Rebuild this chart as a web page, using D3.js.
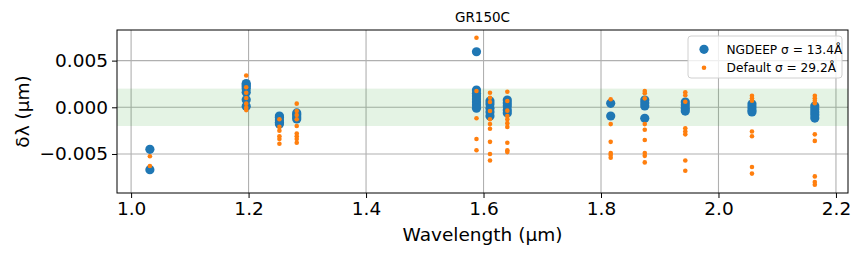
<!DOCTYPE html>
<html>
<head>
<meta charset="utf-8">
<script src="https://cdn.jsdelivr.net/npm/d3@7"></script>
<style>
  body { margin: 0; background: #fff; }
  text { font-family: "DejaVu Sans", sans-serif; fill: #000; }
</style>
</head>
<body>
<div id="chart"></div>
<script>
var svgWidth = 865
var svgHeight = 260

// Plot area
var margin = {top: 30, right: 17, bottom: 67, left: 117}
var plotWidth = svgWidth - margin.left - margin.right
var plotHeight = svgHeight - margin.top - margin.bottom

// Line wavelengths (um)
var lineWave = [1.032, 1.196, 1.2525, 1.282, 1.588, 1.611, 1.6405, 1.8165, 1.8745, 1.9435, 2.057, 2.164]

// NGDEEP offsets (um), one list per line
var ngdeepDelta = [
  [-0.0045, -0.00668],
  [0.00255, 0.0024, 0.0022, 0.0020, 0.0016, 0.0008, 0.0001],
  [-0.00093, -0.0011, -0.00136, -0.0016, -0.0018],
  [-0.0006, -0.0008, -0.00104, -0.00125],
  [0.00595, 0.00185, 0.0015, 0.0012, 0.0009, 0.00057, 0.00025, -0.0001],
  [0.00067, 0.00035, -0.0001, -0.0005, -0.00093],
  [0.00078, 0.00046, 0.00014, -0.0003, -0.0006],
  [0.00043, -0.00093],
  [0.00078, 0.00046, 0.00014, -0.00118],
  [0.00057, 0.00025, -0.0001, -0.0004],
  [0.00035, 0.00003, -0.0003, -0.0005],
  [0.00014, -0.00018, -0.0005, -0.0008, -0.00115]
]

// Default offsets (um), one list per line
var defaultDelta = [
  [-0.00524, -0.00628],
  [0.0034, 0.00214, 0.00156, 0.0010, 0.00039, -0.00004, -0.0003],
  [-0.00128, -0.0021, -0.0025, -0.0031, -0.0034, -0.0039],
  [0.00039, -0.0004, -0.00082, -0.00128, -0.002, -0.0028, -0.0031, -0.0034, -0.0038],
  [0.00745, 0.00174, -0.00118, -0.0034, -0.0046],
  [0.00156, 0.00103, 0.00057, -0.0004, -0.00128, -0.0018, -0.0023, -0.0037, -0.005, -0.0057],
  [0.00167, 0.00067, -0.00036, -0.00093, -0.00128, -0.0017, -0.0021, -0.0038, -0.0046, -0.0048],
  [0.00086, -0.0018, -0.0037, -0.0049, -0.0051, -0.0054],
  [0.00174, 0.0015, 0.00096, -0.0018, -0.0024, -0.0035, -0.0049, -0.0052, -0.0059],
  [0.0016, 0.0013, 0.0006, -0.00225, -0.0026, -0.0029, -0.0057, -0.0068],
  [0.00124, 0.00096, 0.0007, -0.0026, -0.0031, -0.0064, -0.0071],
  [0.00124, 0.00096, 0.0007, 0.00043, -0.0029, -0.0036, -0.0074, -0.008, -0.0083]
]

var xTicks = [1.0, 1.2, 1.4, 1.6, 1.8, 2.0, 2.2]
var yTicks = [-0.005, 0.0, 0.005]
var band = [-0.002, 0.002]
var legendLabels = ["NGDEEP \u03c3 = 13.4\u00c5", "Default \u03c3 = 29.2\u00c5"]

var blue = "#1f77b4", orange = "#ff7f0e"

// flatten to points
function toPoints(deltas) {
  var pts = []
  deltas.forEach(function(list, i) {
    list.forEach(function(d) { pts.push({w: lineWave[i], d: d}) })
  })
  return pts
}
var ngdeepPts = toPoints(ngdeepDelta)
var defaultPts = toPoints(defaultDelta)

var svg = d3.select("#chart")
  .append("svg")
  .attr("width", svgWidth)
  .attr("height", svgHeight)

var chartGroup = svg.append("g")
  .attr("transform", `translate(${margin.left}, ${margin.top})`)

var xScale = d3.scaleLinear().domain([0.976, 2.2205]).range([0, plotWidth])
var yScale = d3.scaleLinear().domain([-0.00918, 0.00828]).range([plotHeight, 0])

// grid
chartGroup.append("g").selectAll("line")
  .data(xTicks).enter().append("line")
  .attr("x1", d => xScale(d)).attr("x2", d => xScale(d))
  .attr("y1", 0).attr("y2", plotHeight)
  .attr("stroke", "#b0b0b0").attr("stroke-width", 1.1)
chartGroup.append("g").selectAll("line")
  .data(yTicks).enter().append("line")
  .attr("y1", d => yScale(d)).attr("y2", d => yScale(d))
  .attr("x1", 0).attr("x2", plotWidth)
  .attr("stroke", "#b0b0b0").attr("stroke-width", 1.1)

// tolerance band
chartGroup.append("rect")
  .attr("x", 0).attr("width", plotWidth)
  .attr("y", yScale(band[1]))
  .attr("height", yScale(band[0]) - yScale(band[1]))
  .attr("fill", "#2ca02c").attr("fill-opacity", 0.13)

// points
chartGroup.append("g").selectAll("circle")
  .data(ngdeepPts).enter().append("circle")
  .attr("cx", d => xScale(d.w)).attr("cy", d => yScale(d.d))
  .attr("r", 4.6).attr("fill", blue)
chartGroup.append("g").selectAll("circle")
  .data(defaultPts).enter().append("circle")
  .attr("cx", d => xScale(d.w)).attr("cy", d => yScale(d.d))
  .attr("r", 2.3).attr("fill", orange)

// axes
var xAxis = chartGroup.append("g")
  .attr("transform", "translate(0," + plotHeight + ")")
  .call(d3.axisBottom(xScale).tickValues(xTicks).tickFormat(d3.format(".1f")).tickSizeInner(5).tickSizeOuter(0).tickPadding(4))
var yAxis = chartGroup.append("g")
  .call(d3.axisLeft(yScale).tickValues(yTicks).tickFormat(d => d3.format(".3f")(d).replace("-", "\u2212")).tickSizeInner(5).tickSizeOuter(0).tickPadding(4))
;[xAxis, yAxis].forEach(function(ax) {
  ax.selectAll("text").attr("font-size", 18.5).attr("font-family", "DejaVu Sans").attr("fill", "#000")
  ax.selectAll("line").attr("stroke", "#000").attr("stroke-width", 1)
  ax.select(".domain").remove()
})

// frame
chartGroup.append("rect")
  .attr("width", plotWidth).attr("height", plotHeight)
  .attr("fill", "none").attr("stroke", "#000").attr("stroke-width", 1)

// labels
svg.append("text")
  .attr("x", margin.left + plotWidth / 2).attr("y", 22)
  .attr("text-anchor", "middle").attr("font-size", 13.5)
  .text("GR150C")
svg.append("text")
  .attr("x", margin.left + plotWidth / 2).attr("y", 241)
  .attr("text-anchor", "middle").attr("font-size", 18.5)
  .text("Wavelength (\u03bcm)")
svg.append("text")
  .attr("transform", `translate(29, ${margin.top + plotHeight / 2}) rotate(-90)`)
  .attr("text-anchor", "middle").attr("font-size", 18.5)
  .text("\u03b4\u03bb (\u03bcm)")

// legend
var legend = svg.append("g").attr("transform", "translate(688, 36)")
legend.append("rect")
  .attr("width", 154).attr("height", 42).attr("rx", 3)
  .attr("fill", "#fff").attr("fill-opacity", 0.8)
  .attr("stroke", "#d0d0d0").attr("stroke-width", 1)
legend.append("circle").attr("cx", 16).attr("cy", 13.3).attr("r", 4.6).attr("fill", blue)
legend.append("circle").attr("cx", 16).attr("cy", 31.7).attr("r", 2.3).attr("fill", orange)
legend.selectAll("text.lab")
  .data(legendLabels).enter().append("text")
  .attr("class", "lab")
  .attr("x", 38.5).attr("y", (d, i) => 18 + i * 18.4)
  .attr("font-size", 12.2)
  .text(d => d)
</script>
</body>
</html>
